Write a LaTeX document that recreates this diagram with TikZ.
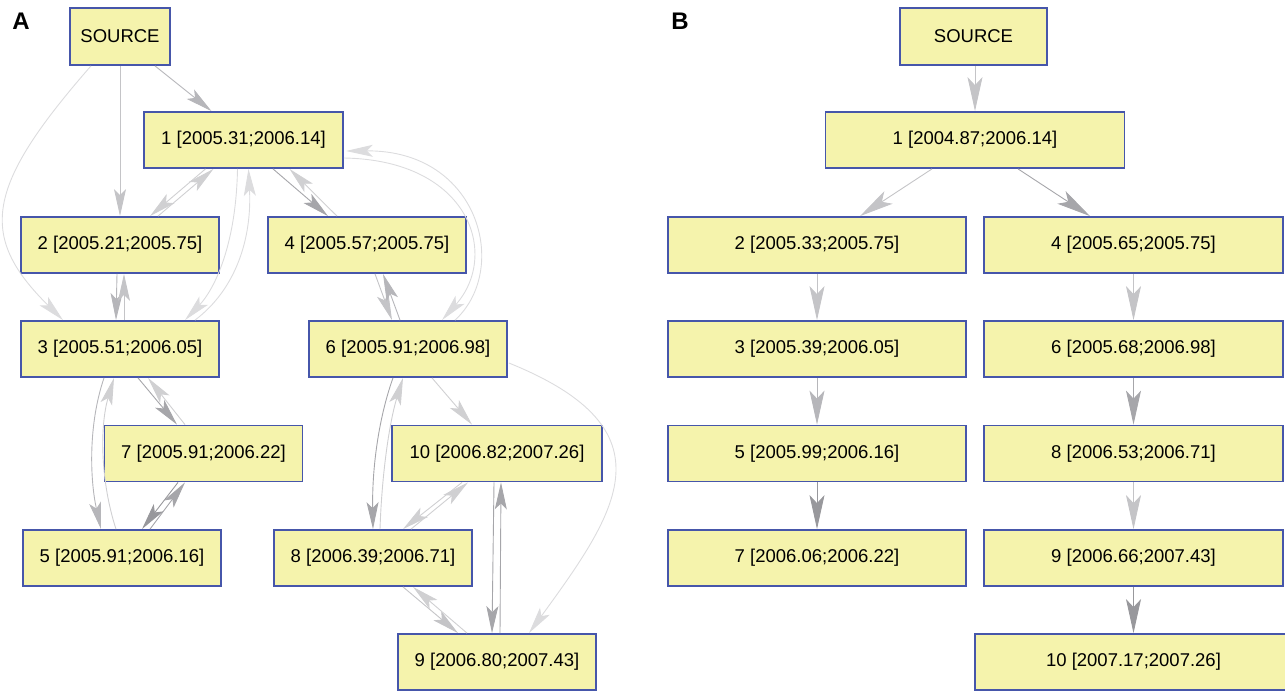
\documentclass[tikz,border=0pt]{standalone}
\usepackage{fontspec}
\setmainfont{Liberation Sans}
\usetikzlibrary{arrows.meta,calc}
\definecolor{boxfill}{HTML}{F5F3AC}
\definecolor{boxdraw}{HTML}{4656AA}
\definecolor{cA}{HTML}{DCDCDE}
\definecolor{cB}{HTML}{D0D0D2}
\definecolor{cC}{HTML}{C4C4C7}
\definecolor{cD}{HTML}{B6B6BA}
\definecolor{cE}{HTML}{A6A6AA}
\definecolor{cF}{HTML}{98989C}
\begin{document}
\begin{tikzpicture}[x=1pt,y=-1pt,
  box/.style={draw=boxdraw, fill=boxfill, line width=1.8pt, minimum height=56pt,
    minimum width=198pt, inner sep=0pt, font=\fontsize{18.5}{22}\selectfont},
  ea/.style={-{Stealth[length=27pt,width=12pt,inset=6pt]}, line width=0.9pt},
  eb/.style={-{Stealth[length=34pt,width=15pt,inset=8pt]}, line width=0.9pt},
  panel/.style={font=\fontsize{24}{28}\selectfont\bfseries}
]
\useasboundingbox (0,0) rectangle (1285,691);

% panel labels
\node[panel] (labA) at (21,21.5) {A};
\node[panel] (labB) at (680,21.5) {B};

% ---------- Panel A nodes ----------
\node[box, minimum width=100pt, minimum height=57pt] (aS) at (120,36.5) {SOURCE};
\node[box, minimum width=199pt] (a1) at (243.5,140) {1 [2005.31;2006.14]};
\node[box] (a2) at (120,245) {2 [2005.21;2005.75]};
\node[box] (a4) at (367,245) {4 [2005.57;2005.75]};
\node[box] (a3) at (120,349) {3 [2005.51;2006.05]};
\node[box] (a6) at (408,349) {6 [2005.91;2006.98]};
\node[box] (a7) at (203.5,453.5) {7 [2005.91;2006.22]};
\node[box, minimum width=210pt] (a10) at (497,453.5) {10 [2006.82;2007.26]};
\node[box] (a5) at (122,558) {5 [2005.91;2006.16]};
\node[box] (a8) at (373,558) {8 [2006.39;2006.71]};
\node[box] (a9) at (497,662) {9 [2006.80;2007.43]};

% ---------- Panel A edges ----------
\draw[ea, cD] ($(aS.south)+(35,0)$) -- ($(a1.north)+(-32,0)$);
\draw[ea, cC] (aS.south) -- (a2.north);
\draw[ea, cA] ($(aS.south)+(-29,0)$) .. controls (-15,187) and (-22,236) .. ($(a3.north)+(-57,0)$);

\draw[ea, cB] ($(a1.south)+(-38,0)$) -- ($(a2.north)+(30,0)$);
\draw[ea, cB] ($(a2.north)+(38,0)$) -- ($(a1.south)+(-30,0)$);

\draw[ea, cA] ($(a1.south)+(-6,0)$) .. controls (236,250) and (212,292) .. ($(a3.north)+(65,0)$);
\draw[ea, cA] ($(a3.north)+(75,0)$) .. controls (235,290) and (252,240) .. ($(a1.south)+(5,0)$);

\draw[ea, cE] ($(a1.south)+(29.5,0)$) -- ($(a4.north)+(-39,0)$);
\draw[ea, cB] ($(a4.north)+(-30,0)$) -- ($(a1.south)+(46,0)$);

\draw[ea, cD] ($(a2.south)+(-3,0)$) -- ($(a3.north)+(-4,0)$);
\draw[ea, cC] ($(a3.north)+(4,0)$) -- ($(a2.south)+(4,0)$);

\draw[ea, cC] ($(a4.south)+(8,0)$) -- ($(a6.north)+(-16,0)$);
\draw[ea, cD] ($(a6.north)+(-8,0)$) -- ($(a4.south)+(16,0)$);

\draw[ea, cA] ($(a1.east)+(0,18)$) .. controls (470,160) and (500,255) .. ($(a6.north)+(34,0)$);
\draw[ea, cA] ($(a6.north)+(47,0)$) .. controls (510,270) and (480,150) .. ($(a1.east)+(2,11)$);

\draw[ea, cE] ($(a3.south)+(18,0)$) -- ($(a7.north)+(-26.5,0)$);
\draw[ea, cB] ($(a7.north)+(-18.5,0)$) -- ($(a3.south)+(28,0)$);

\draw[ea, cD] ($(a3.south)+(-16,0)$) .. controls (88,425) and (90,480) .. ($(a5.north)+(-21,0)$);
\draw[ea, cB] ($(a5.north)+(-6,0)$) .. controls (100,480) and (100,425) .. ($(a3.south)+(-6,0)$);

\draw[ea, cF] ($(a7.south)+(-25.5,0)$) -- ($(a5.north)+(20,0)$);
\draw[ea, cE] ($(a5.north)+(28,0)$) -- ($(a7.south)+(-18.5,0)$);

\draw[ea, cE] ($(a6.south)+(-15,0)$) .. controls (378,420) and (372,470) .. (a8.north);
\draw[ea, cB] ($(a8.north)+(7,0)$) .. controls (382,470) and (390,420) .. ($(a6.south)+(-5,0)$);

\draw[ea, cB] ($(a6.south)+(24,0)$) -- ($(a10.north)+(-25,0)$);
\draw[ea, cA] ($(a6.east)+(1,14)$) .. controls (675,430) and (617,512) .. ($(a9.north)+(32,0)$);

\draw[ea, cB] ($(a10.south)+(-35,0)$) -- ($(a8.north)+(30,0)$);
\draw[ea, cB] ($(a8.north)+(38,0)$) -- ($(a10.south)+(-29,0)$);

\draw[ea, cC] ($(a8.south)+(30,0)$) -- ($(a9.north)+(-39,0)$);
\draw[ea, cB] ($(a9.north)+(-30,0)$) -- ($(a8.south)+(40,0)$);

\draw[ea, cE] ($(a10.south)+(-3,0)$) -- ($(a9.north)+(-5,0)$);
\draw[ea, cE] ($(a9.north)+(3,0)$) -- ($(a10.south)+(4,0)$);

% ---------- Panel B nodes ----------
\node[box, minimum width=147pt, minimum height=57pt] (bS) at (973.5,36.5) {SOURCE};
\node[box, minimum width=299pt] (b1) at (975,140) {1 [2004.87;2006.14]};
\node[box, minimum width=298pt] (b2) at (817,245) {2 [2005.33;2005.75]};
\node[box, minimum width=299pt] (b4) at (1133.5,245) {4 [2005.65;2005.75]};
\node[box, minimum width=298pt] (b3) at (817,349) {3 [2005.39;2006.05]};
\node[box, minimum width=299pt] (b6) at (1133.5,349) {6 [2005.68;2006.98]};
\node[box, minimum width=298pt] (b5) at (817,453.5) {5 [2005.99;2006.16]};
\node[box, minimum width=299pt] (b8) at (1133.5,453.5) {8 [2006.53;2006.71]};
\node[box, minimum width=298pt] (b7) at (817,558) {7 [2006.06;2006.22]};
\node[box, minimum width=299pt] (b9) at (1133.5,558) {9 [2006.66;2007.43]};
\node[box, minimum width=317pt] (b10) at (1133.5,662) {10 [2007.17;2007.26]};

% ---------- Panel B edges ----------
\draw[eb, cC] ($(bS.south)+(1.5,0)$) -- (b1.north);
\draw[eb, cC] ($(b1.south)+(-43,0)$) -- ($(b2.north)+(43,0)$);
\draw[eb, cE] ($(b1.south)+(43,0)$) -- ($(b4.north)+(-43.5,0)$);
\draw[eb, cC] (b2.south) -- (b3.north);
\draw[eb, cD] (b3.south) -- (b5.north);
\draw[eb, cF] (b5.south) -- (b7.north);
\draw[eb, cC] (b4.south) -- (b6.north);
\draw[eb, cE] (b6.south) -- (b8.north);
\draw[eb, cC] (b8.south) -- (b9.north);
\draw[eb, cF] (b9.south) -- (b10.north);
\end{tikzpicture}
\end{document}
